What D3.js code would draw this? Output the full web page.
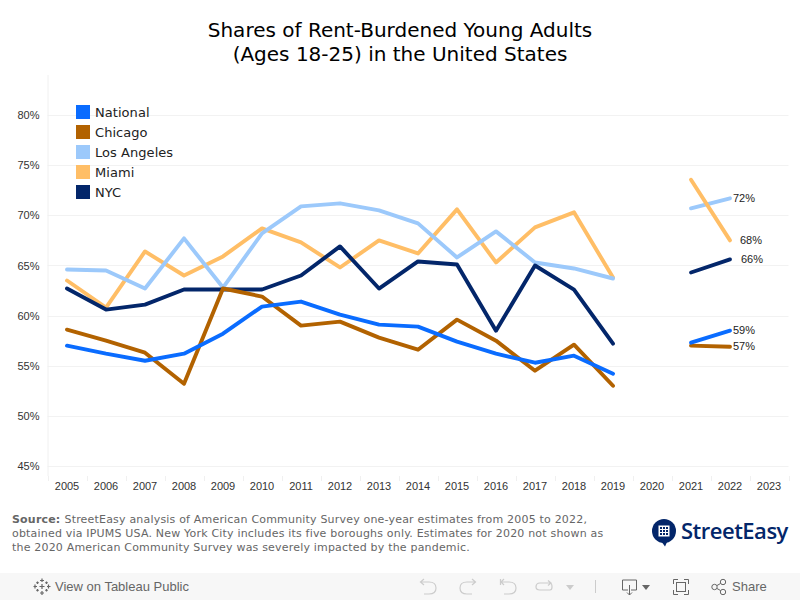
<!DOCTYPE html>
<html><head><meta charset="utf-8">
<script src="https://cdn.jsdelivr.net/npm/d3@7"></script>
<style>
html,body{margin:0;padding:0;background:#fff;overflow:hidden}
svg{display:block}
</style></head><body>
<svg id="c" width="800" height="600"></svg>
<script>
const years=[2005,2006,2007,2008,2009,2010,2011,2012,2013,2014,2015,2016,2017,2018,2019,2020,2021,2022,2023];
const yTicks=[45,50,55,60,65,70,75,80];
const seriesNames=["National","Chicago","Los Angeles","Miami","NYC"];
const seriesColors=["#0a6cff","#b26200","#9cc9fb","#ffbe66","#03266a"];
const title=["Shares of Rent-Burdened Young Adults","(Ages 18-25) in the United States"];
const sourceLines=["StreetEasy analysis of American Community Survey one-year estimates from 2005 to 2022,","obtained via IPUMS USA. New York City includes its five boroughs only. Estimates for 2020 not shown as","the 2020 American Community Survey was severely impacted by the pandemic."];
const national=[57.0,56.2,55.5,56.2,58.2,60.9,61.4,60.1,59.1,58.9,57.4,56.2,55.3,56.0,54.2,null,57.3,58.5,null];
const chicago=[58.6,57.5,56.3,53.2,62.7,61.9,59.0,59.4,57.8,56.6,59.6,57.5,54.5,57.1,53.0,null,57.0,56.9,null];
const losAngeles=[64.6,64.5,62.7,67.7,62.8,68.2,70.9,71.2,70.5,69.2,65.8,68.4,65.3,64.7,63.7,null,70.7,71.7,null];
const miami=[63.5,60.8,66.4,64.0,65.9,68.7,67.3,64.8,67.5,66.2,70.6,65.3,68.8,70.3,63.8,null,73.55,67.5,null];
const nyc=[62.7,60.6,61.1,62.6,62.6,62.6,64.0,66.9,62.7,65.4,65.1,58.5,65.0,62.6,57.2,null,64.3,65.6,null];
const valuesBy={"National":national,"Chicago":chicago,"Los Angeles":losAngeles,"Miami":miami,"NYC":nyc};
// stacking differs between the two stretches of the lines
const periods=[
 {from:2005,to:2019,order:["Miami","Los Angeles","NYC","Chicago","National"]},
 {from:2021,to:2022,order:["Los Angeles","Miami","NYC","Chicago","National"]}
];

const svg=d3.select("#c");
const L=47.5,R=788.5,T=75,B=476;
const x=d3.scaleBand().domain(years).range([L,R]);
const cx=d=>x(d)+x.bandwidth()/2;
const y=d3.scaleLinear().domain([44,84]).range([B,T]);
const color=d3.scaleOrdinal(seriesNames,seriesColors);
const sans="'DejaVu Sans'", arial="'Liberation Sans'";

// title
svg.append("g").selectAll("text").data(title).join("text")
 .attr("x",400).attr("y",(d,i)=>37+i*24).attr("text-anchor","middle")
 .attr("font-family",sans).attr("font-size",20).attr("fill","#000").text(d=>d);

// grid
svg.append("g").selectAll("line").data(yTicks).join("line")
 .attr("x1",L).attr("x2",R).attr("y1",d=>Math.round(y(d))+.5).attr("y2",d=>Math.round(y(d))+.5)
 .attr("stroke","#f2f2f2");
svg.append("line").attr("x1",48).attr("x2",48).attr("y1",T).attr("y2",B).attr("stroke","#f0f0f0");

// axes
const yAxis=svg.append("g").attr("transform",`translate(${L},0)`)
 .call(d3.axisLeft(y).tickValues(yTicks).tickFormat(d=>d+"%").tickSize(0).tickPadding(8));
yAxis.select(".domain").remove();
yAxis.selectAll("text").attr("font-family",arial).attr("font-size",11).attr("fill","#333");
const xAxis=svg.append("g").attr("transform",`translate(0,${B})`)
 .call(d3.axisBottom(x).tickSize(0).tickPadding(6));
xAxis.select(".domain").remove();
xAxis.selectAll("text").attr("font-family",arial).attr("font-size",11).attr("fill","#333");
svg.append("g").selectAll("line").data(years.concat([null])).join("line")
 .attr("x1",d=>Math.round(d===null?R:x(d))+.5).attr("x2",d=>Math.round(d===null?R:x(d))+.5).attr("y1",B).attr("y2",B+5).attr("stroke","#f0f0f0");

// lines
const line=d3.line().x(d=>cx(d[0])).y(d=>y(d[1])).curve(d3.curveLinear);
periods.forEach(p=>{
 svg.append("g").selectAll("path").data(p.order).join("path")
  .attr("fill","none").attr("stroke",d=>color(d)).attr("stroke-width",3.9)
  .attr("stroke-linecap","round").attr("stroke-linejoin","round")
  .attr("d",d=>line(years.map((yr,i)=>[yr,valuesBy[d][i]]).filter(e=>e[1]!==null&&e[0]>=p.from&&e[0]<=p.to)));
});

// end labels
const labelOffset={"National":3,"Chicago":3,"Los Angeles":3,"Miami":10,"NYC":11};
const last=years.indexOf(2022);
svg.append("g").selectAll("text").data(seriesNames).join("text")
 .attr("x",d=>cx(2022)+labelOffset[d]).attr("y",d=>y(valuesBy[d][last])+3.5)
 .attr("font-family",arial).attr("font-size",11).attr("fill","#222")
 .text(d=>Math.round(valuesBy[d][last])+"%");

// legend
const lg=svg.append("g").selectAll("g").data(seriesNames).join("g")
 .attr("transform",(d,i)=>`translate(76,${105+i*20})`);
lg.append("rect").attr("width",14).attr("height",14).attr("fill",d=>color(d));
lg.append("text").attr("x",19).attr("y",12).attr("font-family",sans).attr("font-size",13).attr("fill","#222").attr("letter-spacing",.05).text(d=>d);

// source
const src=svg.append("g").attr("font-family",sans).attr("font-size",11).attr("fill","#666").attr("letter-spacing",.19);
src.selectAll("text").data(sourceLines).join("text")
 .attr("x",12).attr("y",(d,i)=>523+i*14).each(function(d,i){
   const t=d3.select(this);
   if(i===0){t.append("tspan").attr("font-weight","bold").text("Source: ");}
   t.append("tspan").text(d);
 });

// logo
const logo=svg.append("g");
logo.append("circle").attr("cx",664).attr("cy",531).attr("r",12).attr("fill","#03266a");
logo.append("path").attr("d","M661 541L665 546.5L668 540Z").attr("fill","#03266a");
logo.append("rect").attr("x",658.5).attr("y",525.5).attr("width",11).attr("height",11).attr("fill","#fff");
logo.append("g").selectAll("rect").data(d3.cross([0,1,2],[0,1,2])).join("rect")
 .attr("x",d=>660+d[0]*3).attr("y",d=>527+d[1]*3).attr("width",2).attr("height",2).attr("fill","#03266a");
logo.append("text").attr("x",681).attr("y",538.5).attr("font-family","'Open Sans'").attr("font-weight",600).attr("font-size",22).attr("letter-spacing",-.5).attr("fill","#03266a").text("StreetEasy");

// toolbar
svg.append("rect").attr("x",0).attr("y",573).attr("width",800).attr("height",27).attr("fill","#f7f7f7");
const tb=svg.append("g").attr("font-family",arial).attr("fill","#666");
tb.append("text").attr("x",55).attr("y",591).attr("font-size",13).text("View on Tableau Public");
tb.append("text").attr("x",732).attr("y",591).attr("font-size",13).text("Share");
const ico=svg.append("g").attr("fill","none").attr("stroke","#666").attr("stroke-width",1);
// tableau mark
ico.append("path").attr("stroke-width",1.2).attr("d","M42 578.5V582M40 580.5H44M42 591V595M40 593H44M33.5 586.5H37M35 584.5V588.5M47 586.5H50.5M48.5 584.5V588.5M42 584V589M39.5 586.5H44.5M37.5 581.5V584M36.3 582.7H38.7M46.5 581.5V584M45.3 582.7H47.7M37.5 589V591.5M36.3 590.3H38.7M46.5 589V591.5M45.3 590.3H47.7");
// undo/redo greyed
const grey=svg.append("g").attr("fill","none").attr("stroke","#ccc").attr("stroke-width",1.2);
grey.append("path").attr("d","M424 579L420.5 582L424 585M420.5 582H429Q436 582 436 588Q436 594 429 594H424");
grey.append("path").attr("d","M472 579L475.5 582L472 585M475.5 582H467Q460 582 460 588Q460 594 467 594H472");
grey.append("path").attr("d","M500.5 579V585M504 579L501 582L504 585M501 582H509Q516 582 516 588Q516 594 509 594H504");
grey.append("path").attr("d","M540 583H550Q552 583 552 587Q552 590 550 590H540Q536 590 536 587Q536 583 540 583ZM548 580.5L551 583L548 585.5");
svg.append("path").attr("d","M566 585H574L570 590Z").attr("fill","#ccc");
svg.append("line").attr("x1",595.5).attr("x2",595.5).attr("y1",580).attr("y2",593).attr("stroke","#ccc");
// download
ico.append("path").attr("d","M628 590H622.5V580H636.5V590H631M629.5 585V595M627 592.5L629.5 595L632 592.5");
svg.append("path").attr("d","M642 585H650L646 590Z").attr("fill","#666");
// fullscreen
ico.append("path").attr("d","M673.5 584V579.5H678M684 579.5H688.5V584M688.5 590V594.5H684M678 594.5H673.5V590");
ico.append("rect").attr("x",676.5).attr("y",582.5).attr("width",9).attr("height",9);
// share
ico.append("circle").attr("cx",714.5).attr("cy",587).attr("r",2.7);
ico.append("circle").attr("cx",723).attr("cy",582).attr("r",2.7);
ico.append("circle").attr("cx",723).attr("cy",592).attr("r",2.7);
ico.append("path").attr("d","M717 585.5L720.5 583.5M717 588.5L720.5 590.5");
</script>
</body></html>
